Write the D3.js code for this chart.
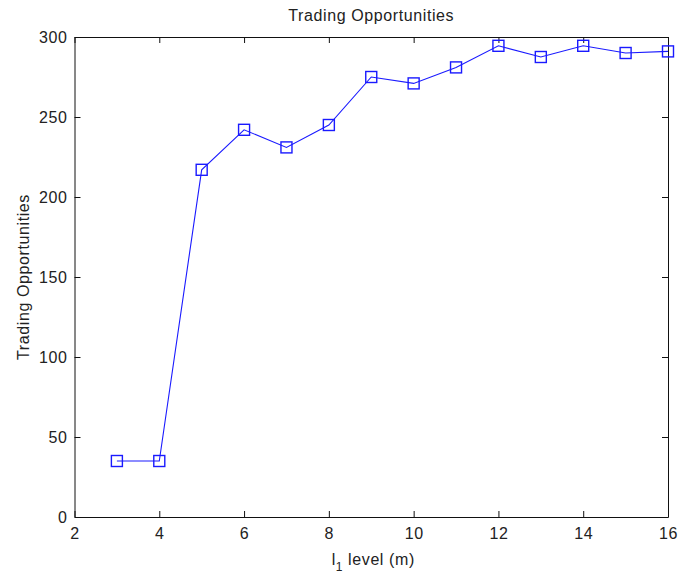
<!DOCTYPE html>
<html>
<head>
<meta charset="utf-8">
<script src="https://cdn.jsdelivr.net/npm/d3@7"></script>
<style>
  html, body { margin: 0; padding: 0; background: #fff; }
  svg { display: block; }
  text { font-family: "Liberation Sans", Arial, Helvetica, sans-serif; fill: #222; }
</style>
</head>
<body>
<svg id="chart" width="680" height="577"></svg>
<script>
// Trading opportunities per l1 level
const levels = [3, 4, 5, 6, 7, 8, 9, 10, 11, 12, 13, 14, 15, 16];
const opportunities = [35, 35, 217, 242, 231, 245, 275, 271, 281, 294.5, 287.5, 294.5, 290, 291];
const xTicks = [2, 4, 6, 8, 10, 12, 14, 16];
const yTicks = [0, 50, 100, 150, 200, 250, 300];
const titleText = "Trading Opportunities";
const yLabelText = "Trading Opportunities";

const m = { left: 74.5, right: 668, top: 37, bottom: 517 };
const tickLen = 6;
const fontSize = 16;
const spacing = "0.6px";

const svg = d3.select("#chart");

const x = d3.scaleLinear().domain([2, 16]).range([m.left, m.right]);
const y = d3.scaleLinear().domain([0, 300]).range([m.bottom, m.top]);

// Box-style axes with inward ticks on all four sides
function styleAxis(g) {
  g.selectAll("path.domain").attr("stroke", "#111").attr("stroke-width", 1);
  g.selectAll(".tick line").attr("stroke", "#111").attr("stroke-width", 1);
  g.selectAll("text")
    .style("font-size", fontSize + "px")
    .style("letter-spacing", spacing)
    .attr("fill", "#222");
}

const axisB = svg.append("g")
  .attr("transform", `translate(0,${m.bottom})`)
  .call(d3.axisBottom(x).tickValues(xTicks).tickFormat(d3.format("d"))
    .tickSizeInner(-tickLen).tickSizeOuter(0).tickPadding(10.5));
styleAxis(axisB);

const axisT = svg.append("g")
  .attr("transform", `translate(0,${m.top})`)
  .call(d3.axisTop(x).tickValues(xTicks).tickFormat("")
    .tickSizeInner(-tickLen).tickSizeOuter(0));
styleAxis(axisT);

const axisL = svg.append("g")
  .attr("transform", `translate(${m.left},0)`)
  .call(d3.axisLeft(y).tickValues(yTicks).tickFormat(d3.format("d"))
    .tickSizeInner(-tickLen).tickSizeOuter(0).tickPadding(7));
styleAxis(axisL);

const axisR = svg.append("g")
  .attr("transform", `translate(${m.right},0)`)
  .call(d3.axisRight(y).tickValues(yTicks).tickFormat("")
    .tickSizeInner(-tickLen).tickSizeOuter(0));
styleAxis(axisR);

// Series line
const pts = levels.map((lv, i) => ({ lv, v: opportunities[i] }));
svg.append("path")
  .datum(pts)
  .attr("fill", "none")
  .attr("stroke", "#1a1aff")
  .attr("stroke-width", 1.1)
  .attr("d", d3.line().x(d => x(d.lv)).y(d => y(d.v)));

// Square markers
const sq = 11;
svg.append("g").selectAll("rect")
  .data(pts)
  .join("rect")
  .attr("x", d => x(d.lv) - sq / 2)
  .attr("y", d => y(d.v) - sq / 2)
  .attr("width", sq)
  .attr("height", sq)
  .attr("fill", "none")
  .attr("stroke", "#1a1aff")
  .attr("stroke-width", 1.4);

// Title
svg.append("text")
  .attr("x", (m.left + m.right) / 2)
  .attr("y", 21)
  .attr("text-anchor", "middle")
  .style("font-size", fontSize + "px")
  .style("letter-spacing", spacing)
  .text(titleText);

// X axis label: l with subscript 1
const xl = svg.append("text")
  .attr("x", (m.left + m.right) / 2 + 2)
  .attr("y", 565)
  .attr("text-anchor", "middle")
  .style("font-size", fontSize + "px")
  .style("letter-spacing", spacing);
xl.append("tspan").text("l");
xl.append("tspan").attr("dy", 6).style("font-size", "12px").text("1");
xl.append("tspan").attr("dy", -6).text(" level (m)");

// Y axis label
svg.append("text")
  .attr("transform", `translate(29,${(m.top + m.bottom) / 2}) rotate(-90)`)
  .attr("text-anchor", "middle")
  .style("font-size", fontSize + "px")
  .style("letter-spacing", spacing)
  .text(yLabelText);
</script>
</body>
</html>
